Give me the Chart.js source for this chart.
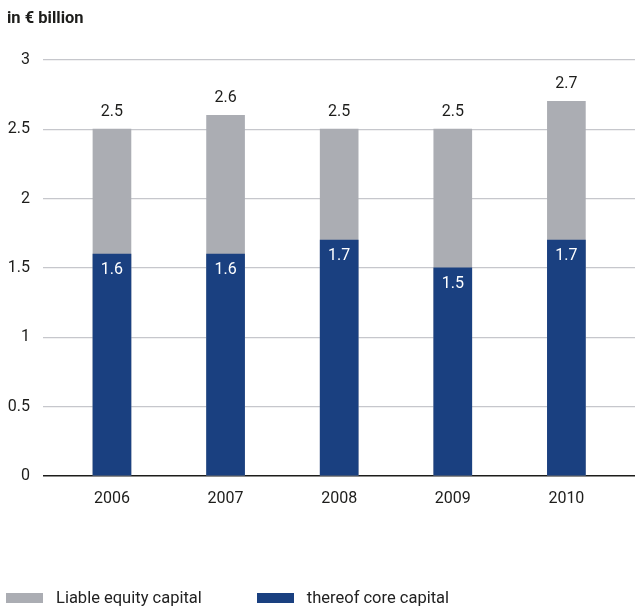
<!DOCTYPE html>
<html lang="en">
<head>
    <meta charset="UTF-8">
    <title>Liable equity capital</title>
    <script src="https://cdn.jsdelivr.net/npm/chart.js"></script>
    <style>
        body {
            margin: 0;
            background: #fff;
            font-family: Roboto, sans-serif;
        }
        #wrap {
            position: relative;
            width: 635px;
            height: 607px;
        }
        #legend {
            position: absolute;
            left: 6px;
            top: 588px;
            display: flex;
            font-size: 16.5px;
            line-height: 20px;
            color: #222;
        }
        .item {
            display: flex;
            align-items: center;
            margin-right: 55px;
        }
        .swatch {
            width: 37px;
            height: 10px;
            margin-right: 13px;
        }
    </style>
</head>
<body>
    <div id="wrap">
        <canvas id="capitalChart"></canvas>
        <div id="legend"></div>
    </div>
    <script>
        const years = [2006, 2007, 2008, 2009, 2010];
        const liableEquity = [2.5, 2.6, 2.5, 2.5, 2.7];
        const coreCapital = [1.6, 1.6, 1.7, 1.5, 1.7];
        const yTicks = [0, 0.5, 1, 1.5, 2, 2.5, 3];

        const GREY = '#abadb3';
        const BLUE = '#1a4080';
        const TEXT = '#1d1d1b';

        // numbers above the grey bars, inside the top of the blue ones
        const valueLabels = {
            id: 'valueLabels',
            afterDatasetsDraw(chart) {
                const ctx = chart.ctx;
                ctx.save();
                ctx.font = '16px Roboto';
                ctx.textAlign = 'center';
                ctx.textBaseline = 'middle';
                chart.data.datasets.forEach((ds, i) => {
                    chart.getDatasetMeta(i).data.forEach((bar, j) => {
                        const v = ds.data[j].y;
                        if (ds.inside) {
                            ctx.fillStyle = '#fff';
                            ctx.fillText(v.toFixed(1), bar.x, bar.y + 16);
                        } else {
                            ctx.fillStyle = TEXT;
                            ctx.fillText(v.toFixed(1), bar.x, bar.y - 17);
                        }
                    });
                });
                ctx.restore();
            }
        };

        const chart = new Chart(document.getElementById('capitalChart'), {
            type: 'bar',
            data: {
                datasets: [
                    {
                        label: 'thereof core capital',
                        data: years.map((yr, i) => ({x: yr, y: coreCapital[i]})),
                        backgroundColor: BLUE,
                        inside: true
                    },
                    {
                        label: 'Liable equity capital',
                        data: years.map((yr, i) => ({x: yr, y: liableEquity[i]})),
                        backgroundColor: GREY
                    }
                ]
            },
            options: {
                responsive: true,
                maintainAspectRatio: false,
                animation: false,
                barThickness: 38,
                layout: {
                    padding: {left: 7, right: 0, top: 0, bottom: 86}
                },
                plugins: {
                    legend: {display: false},
                    tooltip: {enabled: false},
                    title: {
                        display: true,
                        text: 'in € billion',
                        align: 'start',
                        color: TEXT,
                        font: {family: 'Roboto', size: 16.5, weight: 'bold'},
                        padding: {top: 9, bottom: 31}
                    }
                },
                scales: {
                    x: {
                        type: 'linear',
                        stacked: true,
                        offset: false,
                        min: 2005.393,
                        max: 2010.604,
                        afterBuildTicks: scale => {
                            scale.ticks = years.map(v => ({value: v}));
                        },
                        afterFit: scale => { scale.height = 45; },
                        grid: {display: false},
                        border: {display: false},
                        ticks: {
                            padding: 5,
                            color: TEXT,
                            font: {family: 'Roboto', size: 16},
                            callback: v => String(v)
                        }
                    },
                    y: {
                        stacked: false,
                        min: 0,
                        max: 3,
                        afterBuildTicks: scale => {
                            scale.ticks = yTicks.map(v => ({value: v}));
                        },
                        afterFit: scale => { scale.width = 36; },
                        border: {display: false},
                        grid: {
                            drawTicks: false,
                            lineWidth: ctx => ctx.tick && ctx.tick.value === 0 ? 1.5 : 1.2,
                            color: ctx => ctx.tick && ctx.tick.value === 0 ? '#1d1d1b' : '#c6c7cc'
                        },
                        ticks: {
                            padding: 13,
                            color: TEXT,
                            font: {family: 'Roboto', size: 16},
                            callback: v => String(v)
                        }
                    }
                }
            },
            plugins: [valueLabels]
        });

        // legend: liable equity first, core capital second
        const legend = document.getElementById('legend');
        chart.data.datasets.slice().reverse().forEach(ds => {
            const item = document.createElement('div');
            item.className = 'item';
            const sw = document.createElement('span');
            sw.className = 'swatch';
            sw.style.background = ds.backgroundColor;
            const txt = document.createElement('span');
            txt.textContent = ds.label;
            item.appendChild(sw);
            item.appendChild(txt);
            legend.appendChild(item);
        });
    </script>
</body>
</html>
